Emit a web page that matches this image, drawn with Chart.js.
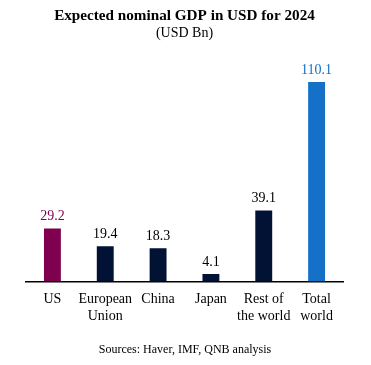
<!DOCTYPE html>
<html><head><meta charset="utf-8">
<script src="https://cdn.jsdelivr.net/npm/chart.js@4"></script>
<style>html,body{margin:0;padding:0;background:#fff}#w{width:371px;height:365px;position:relative}</style>
</head><body><div id="w"><canvas id="c"></canvas></div>
<script>
const categories = [["US"], ["European", "Union"], ["China"], ["Japan"], ["Rest of", "the world"], ["Total", "world"]];
const gdpValues = [29.2, 19.4, 18.3, 4.1, 39.1, 110.1];
const valueLabels = ["29.2", "19.4", "18.3", "4.1", "39.1", "110.1"];
const barColors = ["#7f004f", "#021235", "#021235", "#021235", "#021235", "#1570c8"];
const labelColors = ["#7f004f", "#000000", "#000000", "#000000", "#000000", "#1570c8"];
const FONT = "'Liberation Serif', 'Times New Roman', serif";

const valuePlugin = {
  id: 'vals',
  afterDatasetsDraw(chart) {
    const ctx = chart.ctx;
    const meta = chart.getDatasetMeta(0);
    ctx.save();
    ctx.font = "14px " + FONT;
    ctx.textAlign = 'center';
    ctx.textBaseline = 'bottom';
    meta.data.forEach((bar, i) => {
      ctx.fillStyle = labelColors[i];
      ctx.fillText(valueLabels[i], bar.x, bar.y - 5);
    });
    ctx.fillStyle = '#000';
    ctx.font = "12px " + FONT;
    ctx.textBaseline = 'middle';
    ctx.fillText("Sources: Haver, IMF, QNB analysis", 185, 350);
    ctx.restore();
  }
};

new Chart(document.getElementById('c'), {
  type: 'bar',
  data: {
    labels: categories,
    datasets: [{
      data: gdpValues,
      backgroundColor: barColors,
      categoryPercentage: 1,
      barPercentage: 0.32
    }]
  },
  options: {
    responsive: true,
    maintainAspectRatio: false,
    animation: false,
    layout: { padding: { left: 26, right: 28, top: 7, bottom: 30 } },
    plugins: {
      legend: { display: false },
      tooltip: { enabled: false },
      title: {
        display: true,
        text: "Expected nominal GDP in USD for 2024",
        color: '#000',
        font: { family: FONT, size: 15.2, weight: 'bold' },
        padding: { top: 0, bottom: 0 }
      },
      subtitle: {
        display: true,
        text: "(USD Bn)",
        color: '#000',
        font: { family: FONT, size: 14 },
        padding: { top: 0, bottom: 10 }
      }
    },
    scales: {
      x: {
        grid: { display: false, drawTicks: false },
        border: { display: true, color: '#000', width: 1.5 },
        ticks: { color: '#000', font: { family: FONT, size: 14 }, padding: 10, maxRotation: 0, autoSkip: false }
      },
      y: {
        display: false,
        min: 0,
        max: 126.6
      }
    }
  },
  plugins: [valuePlugin]
});
</script></body></html>
